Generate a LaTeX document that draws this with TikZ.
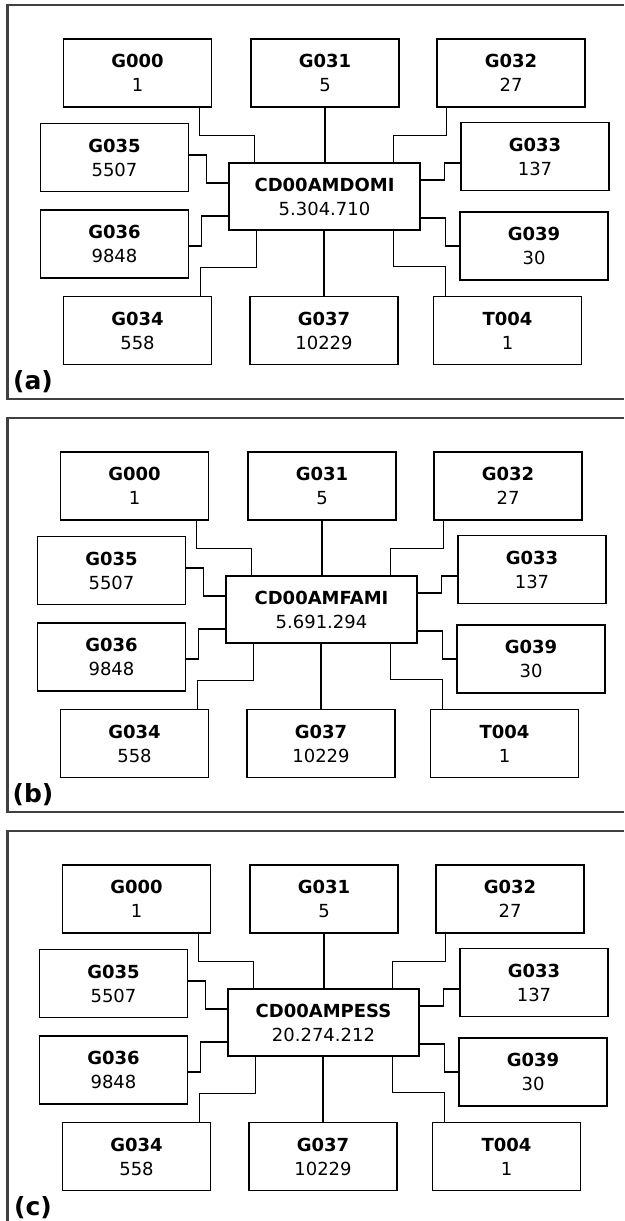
\documentclass[tikz,border=0pt]{standalone}
\usepackage{fontspec}
\setmainfont{DejaVu Sans}

\tikzset{
  module/.style={draw, line width=1.6pt, minimum width=148pt, minimum height=68pt,
    inner sep=0pt, align=center, font=\fontsize{18}{24}\selectfont},
  hub/.style={module, minimum width=191pt, minimum height=67pt},
  link/.style={draw, line width=1.3pt},
  frame/.style={draw=black!75, line width=2.2pt},
  tag/.style={inner sep=0pt, font=\bfseries\fontsize{25}{28}\selectfont}
}

% #1 prefix, #2 y offset, #3 x offset, #4 hub name, #5 hub count, #6 tag
\newcommand{\drawpanel}[6]{%
  \draw[frame] (624,5+#2) -- (7.5,5+#2) -- (7.5,399+#2) -- (624,399+#2);
  \node[tag] (#1-tag) at (33,381.5+#2) {(#6)};
  \begin{scope}[shift={(#3,#2)}, name prefix=#1-]
    \node[hub] (ctr) at (324.5,196.5) {\textbf{#4}\\#5};

    \node[module] (g000) at (137.5,73) {\textbf{G000}\\1};
    \node[module] (g031) at (325,73) {\textbf{G031}\\5};
    \node[module] (g032) at (511,73) {\textbf{G032}\\27};
    \node[module] (g035) at (114.5,157.5) {\textbf{G035}\\5507};
    \node[module] (g033) at (535,156.5) {\textbf{G033}\\137};
    \node[module] (g036) at (114.5,244) {\textbf{G036}\\9848};
    \node[module] (g039) at (534,246) {\textbf{G039}\\30};
    \node[module] (g034) at (137.5,330.5) {\textbf{G034}\\558};
    \node[module] (g037) at (324,330.5) {\textbf{G037}\\10229};
    \node[module] (t004) at (507.5,330.5) {\textbf{T004}\\1};

    % top row
    \draw[link] ([xshift=-13pt]g000.south east) -- ++(0,28) -| ([xshift=26pt]ctr.north west);
    \draw[link] (g031.south) -- (g031.south |- ctr.north);
    \draw[link] ([xshift=10pt]g032.south west) -- ++(0,28) -| ([xshift=-27pt]ctr.north east);
    % sides
    \draw[link] ([yshift=2.5pt]g035.east) -- ++(17,0) |- ([yshift=13.5pt]ctr.west);
    \draw[link] ([yshift=-2pt]g036.east) -- ++(12,0) |- ([yshift=-19.5pt]ctr.west);
    \draw[link] ([yshift=-6.5pt]g033.west) -- ++(-16,0) |- ([yshift=16.5pt]ctr.east);
    \draw[link] (g039.west) -- ++(-14,0) |- ([yshift=-21.5pt]ctr.east);
    % bottom row
    \draw[link] ([xshift=-12pt]g034.north east) -- ++(0,-28) -| ([xshift=28pt]ctr.south west);
    \draw[link] (g037.north) -- (g037.north |- ctr.south);
    \draw[link] ([xshift=13pt]t004.north west) -- ++(0,-29) -| ([xshift=-27pt]ctr.south east);
  \end{scope}}

\begin{document}
\begin{tikzpicture}[x=1pt, y=-1pt]
  \useasboundingbox (0,0) rectangle (624,1221);

  \drawpanel{a}{0}{0}{CD00AMDOMI}{5.304.710}{a}
  \drawpanel{b}{413}{-3}{CD00AMFAMI}{5.691.294}{b}
  \drawpanel{c}{826}{-1}{CD00AMPESS}{20.274.212}{c}

\end{tikzpicture}
\end{document}
